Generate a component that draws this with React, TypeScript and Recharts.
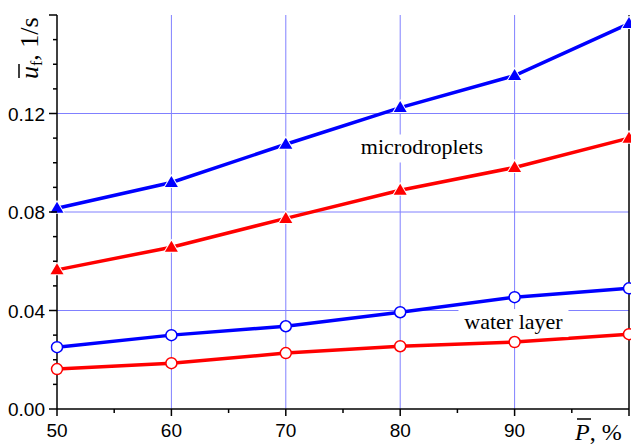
import { LineChart, Line, XAxis, YAxis, ReferenceLine, ReferenceDot } from 'recharts';

// ---- data ----
const pressure = [50, 60, 70, 80, 90, 100];
const dropletsBlue = [0.0815, 0.092, 0.1075, 0.1224, 0.1354, 0.1565];
const dropletsRed = [0.0565, 0.0657, 0.0774, 0.0888, 0.0981, 0.110];
const layerBlue = [0.0251, 0.030, 0.0336, 0.0393, 0.0454, 0.049];
const layerRed = [0.0162, 0.0186, 0.0227, 0.0255, 0.0272, 0.0304];

const xTicks = [50, 55, 60, 65, 70, 75, 80, 85, 90, 95, 100];
const yTicks = [0, 0.01, 0.02, 0.03, 0.04, 0.05, 0.06, 0.07, 0.08, 0.09, 0.1, 0.11, 0.12, 0.13, 0.14, 0.15, 0.16];
const xGrid = [60, 70, 80, 90];
const yGrid = [0.04, 0.08, 0.12];

const data = pressure.map((p, i) => ({
    p,
    dropletsBlue: dropletsBlue[i],
    dropletsRed: dropletsRed[i],
    layerBlue: layerBlue[i],
    layerRed: layerRed[i],
}));

const BLUE = '#0000ff';
const RED = '#ff0000';
const GRID = '#8080ff';
const SANS = '"Liberation Sans", Arial, sans-serif';
const SERIF = '"Liberation Serif", "Times New Roman", serif';

const isMajorX = (v: number) => v % 10 === 0;
const isMajorY = (v: number) => Math.round(v * 100) % 4 === 0;

// ---- markers ----
const triangle = (color: string) => (props: any) => {
    const { cx, cy, index } = props;
    if (cx == null || cy == null) return <g key={index} />;
    return (
        <path
            key={index}
            d={`M${cx},${cy - 6.5} L${cx + 6.5},${cy + 4.5} L${cx - 6.5},${cy + 4.5} Z`}
            fill={color}
            stroke="#fff"
            strokeWidth={2}
            style={{ paintOrder: 'stroke' }}
        />
    );
};

const ring = (color: string) => (props: any) => {
    const { cx, cy, index } = props;
    if (cx == null || cy == null) return <g key={index} />;
    return <circle key={index} cx={cx} cy={cy} r={5.5} fill="#fff" stroke={color} strokeWidth={1.5} />;
};

// ---- ticks ----
const BottomTick = (props: any) => {
    const { x, y, payload } = props;
    const v = payload.value;
    const major = isMajorX(v);
    return (
        <g>
            <line x1={x} y1={y} x2={x} y2={y + (major ? 7 : 4)} stroke="#000" strokeWidth={1.5} />
            {major && v < 100 && (
                <text x={x} y={y + 28} textAnchor="middle" fontSize={19} fontFamily={SANS} fill="#000">
                    {v}
                </text>
            )}
            {v === 100 && (
                <g>
                    <text x={x - 54} y={y + 31} fontSize={24} fontFamily={SERIF} fill="#000">
                        <tspan fontStyle="italic">P</tspan>
                        <tspan>, %</tspan>
                    </text>
                    <line x1={x - 52} y1={y + 10} x2={x - 38} y2={y + 10} stroke="#000" strokeWidth={1.5} />
                </g>
            )}
        </g>
    );
};

const TopTick = (props: any) => {
    const { x, y, payload } = props;
    return <line x1={x} y1={y} x2={x} y2={y + (isMajorX(payload.value) ? 7 : 4)} stroke="#000" strokeWidth={1.5} />;
};

const LeftTick = (props: any) => {
    const { x, y, payload } = props;
    const v = payload.value;
    const major = isMajorY(v);
    return (
        <g>
            <line x1={x - (major ? 8 : 4)} y1={y} x2={x} y2={y} stroke="#000" strokeWidth={1.5} />
            {major && v < 0.16 && (
                <text x={x - 12} y={y + 7} textAnchor="end" fontSize={19} fontFamily={SANS} fill="#000">
                    {v.toFixed(2)}
                </text>
            )}
        </g>
    );
};

const RightTick = (props: any) => {
    const { x, y, payload } = props;
    return <line x1={x - (isMajorY(payload.value) ? 7 : 4)} y1={y} x2={x} y2={y} stroke="#000" strokeWidth={1.5} />;
};

const YTitle = () => (
    <g>
        <text transform="translate(38,79) rotate(-90)" fontSize={26} fontFamily={SERIF} fill="#000">
            <tspan fontStyle="italic">u</tspan>
            <tspan fontSize={16} dy={4}>f</tspan>
            <tspan dy={-4}>, 1/s</tspan>
        </text>
        <line x1={19} y1={64} x2={19} y2={78} stroke="#000" strokeWidth={1.5} />
    </g>
);

// ---- annotations ----
const boxedText = (text: string, w: number) => (props: any) => {
    const { cx, cy } = props;
    return (
        <g>
            <rect x={cx - w / 2} y={cy - 13} width={w} height={28} fill="#fff" />
            <text x={cx} y={cy + 7} textAnchor="middle" fontSize={22} fontFamily={SERIF} fill="#000">
                {text}
            </text>
        </g>
    );
};

export default function App() {
    return (
        <div style={{ position: 'absolute', left: 0, top: 0, width: 631, height: 446, background: '#fff' }}>
            <LineChart width={631} height={446} data={data} margin={{ top: 15, right: 0, bottom: 0, left: 0 }}>
                <XAxis
                    dataKey="p"
                    type="number"
                    domain={[50, 100]}
                    ticks={xTicks}
                    interval={0}
                    height={37}
                    tickSize={0}
                    tickMargin={0}
                    tickLine={false}
                    tick={<BottomTick />}
                    axisLine={{ stroke: '#000', strokeWidth: 1.5 }}
                />
                <XAxis
                    xAxisId="top"
                    orientation="top"
                    dataKey="p"
                    type="number"
                    domain={[50, 100]}
                    ticks={xTicks}
                    interval={0}
                    height={0}
                    tickSize={0}
                    tickMargin={0}
                    tickLine={false}
                    tick={<TopTick />}
                    axisLine={{ stroke: '#000', strokeWidth: 1.5 }}
                />
                <YAxis
                    type="number"
                    domain={[0, 0.16]}
                    ticks={yTicks}
                    interval={0}
                    width={57}
                    tickSize={0}
                    tickMargin={0}
                    tickLine={false}
                    tick={<LeftTick />}
                    axisLine={{ stroke: '#000', strokeWidth: 1.5 }}
                    label={{ content: <YTitle /> }}
                />
                <YAxis
                    yAxisId="right"
                    orientation="right"
                    type="number"
                    domain={[0, 0.16]}
                    ticks={yTicks}
                    interval={0}
                    width={2}
                    tickSize={0}
                    tickMargin={0}
                    tickLine={false}
                    tick={<RightTick />}
                    axisLine={{ stroke: '#000', strokeWidth: 1.5 }}
                />
                {xGrid.map((v) => (
                    <ReferenceLine key={`gx${v}`} x={v} stroke={GRID} strokeWidth={1} />
                ))}
                {yGrid.map((v) => (
                    <ReferenceLine key={`gy${v}`} y={v} stroke={GRID} strokeWidth={1} />
                ))}
                <ReferenceDot x={81.9} y={0.1062} r={0} shape={boxedText('microdroplets', 136)} />
                <ReferenceDot x={89.9} y={0.0353} r={0} shape={boxedText('water layer', 110)} />
                <Line dataKey="dropletsBlue" stroke={BLUE} strokeWidth={3.5} dot={triangle(BLUE)} isAnimationActive={false} />
                <Line dataKey="dropletsRed" stroke={RED} strokeWidth={3.5} dot={triangle(RED)} isAnimationActive={false} />
                <Line dataKey="layerBlue" stroke={BLUE} strokeWidth={3.5} dot={ring(BLUE)} isAnimationActive={false} />
                <Line dataKey="layerRed" stroke={RED} strokeWidth={3.5} dot={ring(RED)} isAnimationActive={false} />
            </LineChart>
        </div>
    );
}
